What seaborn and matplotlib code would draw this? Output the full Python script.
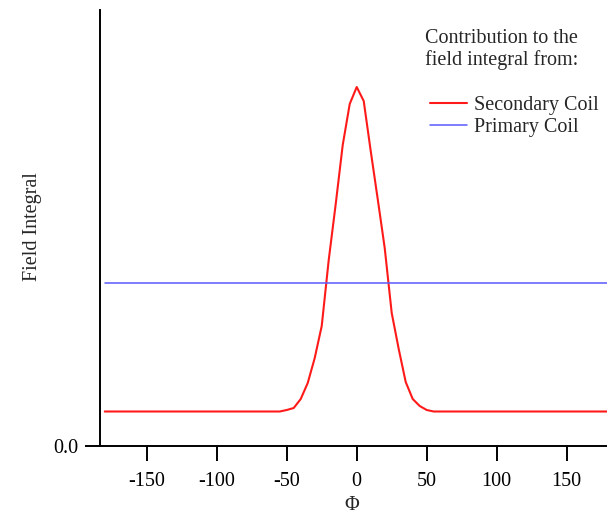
import numpy as np
import pandas as pd
import matplotlib
matplotlib.use("Agg")
import matplotlib.pyplot as plt
import seaborn as sns

# ---- data ----
phi_secondary = [-180, -55, -50, -45, -40, -35, -30, -25, -20, -15, -10, -5, 0,
                 5, 10, 15, 20, 25, 30, 35, 40, 45, 50, 55, 180]
field_secondary = [0.345, 0.345, 0.36, 0.38, 0.47, 0.63, 0.88, 1.20, 1.86, 2.42, 3.01, 3.42, 3.59,
                   3.45, 2.95, 2.47, 1.98, 1.33, 0.97, 0.64, 0.47, 0.40, 0.36, 0.345, 0.345]
phi_primary = [-180, 180]
field_primary = [1.635, 1.635]
series_names = ["Secondary Coil", "Primary Coil"]
series_colors = ["#ff1a1a", "#5a5aff"]
xticks = [-150, -100, -50, 0, 50, 100, 150]
yticks = [0.0]
ytick_labels = ["0.0"]
header = "Contribution to the\nfield integral from:"
xlabel = "\u03a6"
ylabel = "Field Integral"

sns.set_theme(style="white")
plt.rcParams["font.family"] = ["Liberation Serif", "DejaVu Serif"]

W, H = 607, 517
fig = plt.figure(figsize=(W / 100, H / 100), dpi=100)
ax = fig.add_axes([100 / W, 1 - 446 / H, 507 / W, 436 / H])

df_sec = pd.DataFrame({"phi": phi_secondary, "field": field_secondary})
df_pri = pd.DataFrame({"phi": phi_primary, "field": field_primary})
sns.lineplot(data=df_sec, x="phi", y="field", ax=ax, color=series_colors[0],
             lw=1.5, estimator=None, sort=False, label=series_names[0])
sns.lineplot(data=df_pri, x="phi", y="field", ax=ax, color=series_colors[1],
             lw=1.1, estimator=None, sort=False, label=series_names[1])

ax.set_xlim(-183.4, 178.8)
ax.set_ylim(0, 4.36)
fs = 14.5
ax.set_xticks(xticks)
ax.set_xticklabels([str(t) for t in xticks], fontsize=fs)
ax.set_yticks(yticks)
ax.set_yticklabels(ytick_labels, fontsize=fs)
ax.tick_params(axis="both", direction="out", length=10.5, width=1.4, color="black",
               bottom=True, left=True, pad=5, labelcolor="black")
ax.tick_params(axis="x", pad=8)
ax.set_xlabel("")
ax.set_ylabel("")
for s in ["top", "right"]:
    ax.spines[s].set_visible(False)
for s in ["left", "bottom"]:
    ax.spines[s].set_color("black")
    ax.spines[s].set_linewidth(1.4)
ax.grid(False)

fig.text(352 / W, 1 - 506 / H, xlabel, ha="center", va="center", fontsize=fs)
fig.text(33 / W, 1 - 227 / H, ylabel, ha="center", va="center", rotation=90, fontsize=fs)
fig.text(425 / W, 1 - 29 / H, header, ha="left", va="top", fontsize=fs, linespacing=1.12)

handles, labels = ax.get_legend_handles_labels()
ax.legend(handles, labels, loc="upper left", bbox_to_anchor=(430 / W, 1 - 96 / H),
          bbox_transform=fig.transFigure, frameon=False, borderpad=0, borderaxespad=0,
          handlelength=1.85, handletextpad=0.35, labelspacing=0.15, fontsize=fs)

fig.savefig("out.png", dpi=100)
